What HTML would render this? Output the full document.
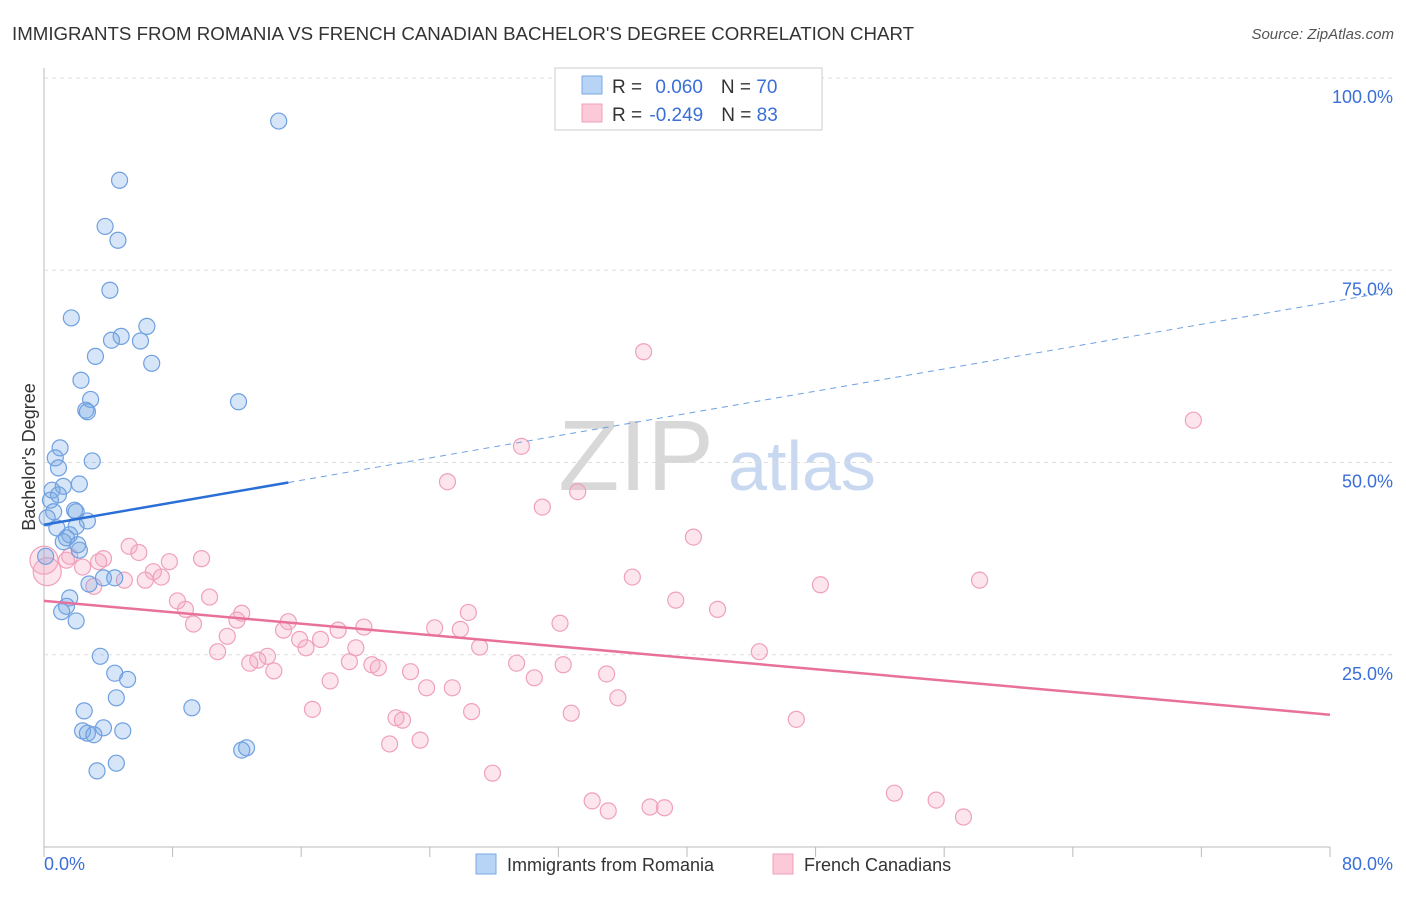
<!DOCTYPE html>
<html><head><meta charset="utf-8"><style>
body{margin:0;background:#fff;font-family:"Liberation Sans",sans-serif}
svg text{font-family:"Liberation Sans",sans-serif}
</style></head><body>
<svg id="chart" width="1406" height="892">
<text x="12" y="40" font-size="18.7" fill="#333">IMMIGRANTS FROM ROMANIA VS FRENCH CANADIAN BACHELOR'S DEGREE CORRELATION CHART</text>
<text x="1394" y="39" font-size="15" fill="#555" font-style="italic" text-anchor="end">Source: ZipAtlas.com</text>
<text x="636" y="490" font-size="100" fill="#d8d8d8" font-family="Liberation Serif" text-anchor="middle">ZIP</text>
<text x="802" y="490" font-size="70" fill="#c8d8f0" text-anchor="middle">atlas</text>
<text transform="translate(35,457) rotate(-90)" font-size="18" fill="#333" text-anchor="middle">Bachelor's Degree</text>
<g id="grid"></g><g id="marks"></g>
<g>
<rect x="555" y="68" width="267" height="62" fill="#fff" stroke="#ccc"/>
<rect x="582" y="76" width="20" height="18" fill="#b7d3f5" stroke="#7aa8e6"/>
<rect x="582" y="104" width="20" height="18" fill="#fbc9d8" stroke="#f0a0bb"/>
<text x="612" y="93" font-size="19" fill="#333">R = <tspan fill="#3a6fd8" dx="8">0.060</tspan><tspan dx="18">N = </tspan><tspan fill="#3a6fd8">70</tspan></text>
<text x="612" y="121" font-size="19" fill="#333">R = <tspan fill="#3a6fd8" dx="2">-0.249</tspan><tspan dx="18">N = </tspan><tspan fill="#3a6fd8">83</tspan></text>
</g>
<g>
<rect x="476" y="854" width="20" height="20" fill="#b7d3f5" stroke="#7aa8e6"/>
<text x="507" y="871" font-size="18" fill="#333">Immigrants from Romania</text>
<rect x="773" y="854" width="20" height="20" fill="#fbc9d8" stroke="#f0a0bb"/>
<text x="804" y="871" font-size="18" fill="#333">French Canadians</text>
</g>
</svg>
<script>
const yTicks=[25,50,75,100];
const xTickLabels=["0.0%","80.0%"];
const blueX=[14.6,4.7,3.8,4.6,4.1,1.7,6.4,4.8,4.2,6.0,3.2,6.7,2.3,2.9,12.1,2.6,2.7,1.0,0.7,3.0,0.9,2.2,1.2,0.5,0.9,0.4,1.9,0.6,2.0,0.2,2.7,2.0,0.8,1.6,1.4,1.2,2.1,2.2,0.1,2.8,3.7,4.4,1.6,1.4,1.1,2.0,3.5,4.4,5.2,4.5,9.2,2.5,2.4,3.7,2.7,3.1,4.9,12.3,12.6,3.3,4.5];
const blueY=[94.4,86.7,80.7,78.9,72.4,68.8,67.7,66.4,65.9,65.8,63.8,62.9,60.7,58.2,57.9,56.8,56.6,51.9,50.6,50.2,49.3,47.2,46.9,46.4,45.8,45.1,43.8,43.6,43.6,42.8,42.4,41.7,41.5,40.6,40.2,39.7,39.3,38.6,37.8,34.2,35.0,35.0,32.4,31.3,30.6,29.4,24.8,22.6,21.8,19.4,18.1,17.7,15.1,15.5,14.8,14.6,15.1,12.6,12.9,9.9,10.9];
const pinkX=[37.3,71.5,29.7,25.1,33.2,31.0,40.4,0,0.2,5.3,5.9,3.7,1.6,1.4,9.8,7.8,3.4,2.4,6.8,7.3,6.3,5.0,3.1,36.6,48.3,58.2,10.3,8.3,39.3,8.8,41.9,12.3,26.4,12.0,15.2,9.3,14.9,19.9,24.3,32.1,25.9,18.3,11.4,15.9,17.2,16.3,19.4,27.1,10.8,44.5,13.9,13.3,12.8,19.0,20.4,20.8,29.4,32.3,14.3,22.8,35.0,17.8,30.5,23.8,25.4,35.7,16.7,26.6,32.8,21.9,22.3,46.8,23.4,21.5,27.9,52.9,34.1,55.5,35.1,37.7,38.6,57.2];
const pinkY=[64.4,55.5,52.1,47.5,46.2,44.2,40.3,37.3,35.8,39.1,38.3,37.5,37.8,37.3,37.5,37.1,37.1,36.4,35.8,35.1,34.7,34.7,33.9,35.1,34.1,34.7,32.5,32.0,32.1,30.9,30.9,30.4,30.5,29.5,29.3,29.0,28.2,28.6,28.5,29.1,28.3,28.2,27.4,27.0,27.0,25.9,25.9,26.0,25.4,25.4,24.8,24.3,23.9,24.1,23.7,23.3,23.9,23.7,22.9,22.8,22.5,21.6,22.0,20.7,20.7,19.4,17.9,17.6,17.4,16.8,16.5,16.6,13.9,13.4,9.6,7.0,6.0,6.1,4.7,5.2,5.1,3.9];
const blueTrend=[41.9,72.2]; const blueTrendX=[0,83.7]; const blueSolidEnd=15.2;
const pinkTrend=[32.0,17.2]; const pinkTrendX=[0,80];
const X=v=>44+v/80*1286, Y=v=>847-v/100*769;
const NS="http://www.w3.org/2000/svg";
function mk(t,a,p){const e=document.createElementNS(NS,t);for(const k in a)e.setAttribute(k,a[k]);p.appendChild(e);return e;}
const g=document.getElementById('grid'), m=document.getElementById('marks');
const ax=mk('line',{x1:44,y1:68,x2:44,y2:847,stroke:'#bbb'},g);


const bx=mk('line',{x1:44,y1:847,x2:1330,y2:847,stroke:'#bbb'},g);


for(let i=0;i<=10;i++){const t=mk('line',{x1:X(i*8),y1:847,x2:X(i*8),y2:857,stroke:'#bbb'},g);

}
yTicks.forEach(v=>{const l=mk('line',{x1:44,y1:Y(v),x2:1394,y2:Y(v),stroke:'#ddd','stroke-dasharray':'4,4'},g);


const t=mk('text',{x:1393,y:Y(v)+25,'text-anchor':'end','font-size':18,fill:'#3a6fd8'},g);t.textContent=v.toFixed(1)+'%';

});
const l0=mk('text',{x:44,y:870,'font-size':18,fill:'#3a6fd8'},g);l0.textContent=xTickLabels[0];


const l1=mk('text',{x:1393,y:870,'font-size':18,fill:'#3a6fd8','text-anchor':'end'},g);l1.textContent=xTickLabels[1];


pinkX.forEach((x,i)=>{const c=mk('circle',{cx:X(x),cy:Y(pinkY[i]),r:(x<0.5?14:8),fill:'rgba(246,170,195,0.3)',stroke:'#f0a0bb','stroke-width':1.2},m);

});
blueX.forEach((x,i)=>{const c=mk('circle',{cx:X(x),cy:Y(blueY[i]),r:8,fill:'rgba(120,170,230,0.3)',stroke:'#6fa0e0','stroke-width':1.2},m);

});
const by=x=>blueTrend[0]+(blueTrend[1]-blueTrend[0])*(x-blueTrendX[0])/(blueTrendX[1]-blueTrendX[0]);
const b1=mk('line',{x1:X(0),y1:Y(by(0)),x2:X(blueSolidEnd),y2:Y(by(blueSolidEnd)),stroke:'#2a6fd6','stroke-width':2.5},m);


const b2=mk('line',{x1:X(blueSolidEnd),y1:Y(by(blueSolidEnd)),x2:X(blueTrendX[1]),y2:Y(blueTrend[1]),stroke:'#6fa0e0','stroke-width':1,'stroke-dasharray':'6,5'},m);


const p1=mk('line',{x1:X(pinkTrendX[0]),y1:Y(pinkTrend[0]),x2:X(pinkTrendX[1]),y2:Y(pinkTrend[1]),stroke:'#e8719c','stroke-width':2.5},m);


</script>
</body></html>
